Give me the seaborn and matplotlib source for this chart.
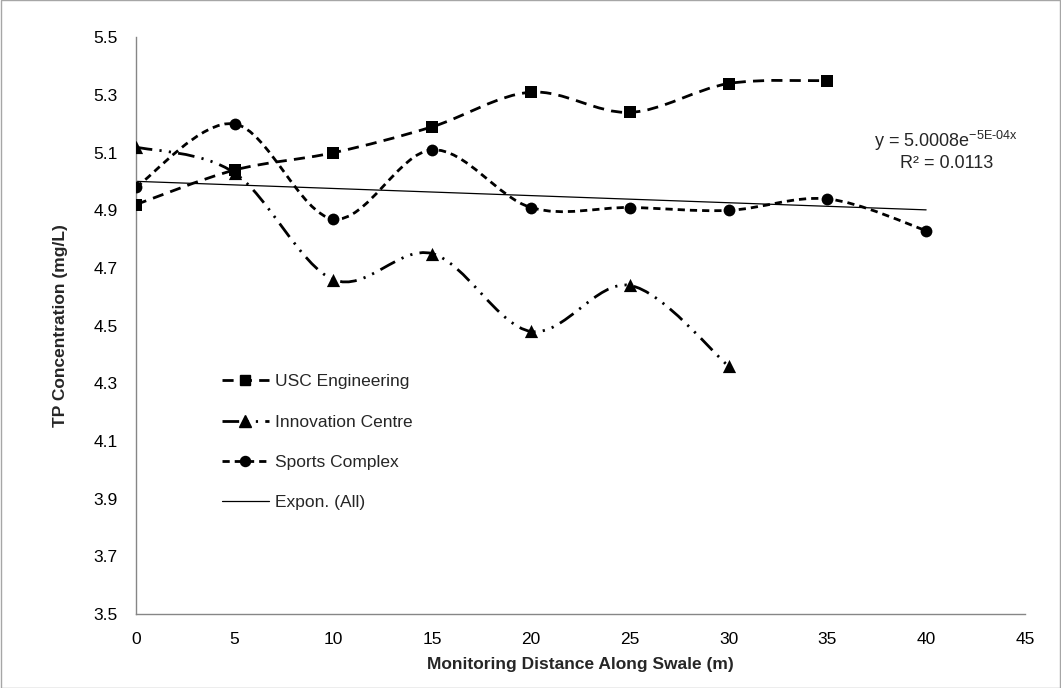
import numpy as np
import pandas as pd
import matplotlib
matplotlib.use("Agg")
import matplotlib.pyplot as plt
import seaborn as sns
from matplotlib.path import Path
from matplotlib.patches import PathPatch, Rectangle
from matplotlib.lines import Line2D

# ---------------- data ----------------
dist_usc = [0, 5, 10, 15, 20, 25, 30, 35]
usc_engineering = [4.92, 5.04, 5.10, 5.19, 5.31, 5.24, 5.34, 5.35]

dist_innov = [0, 5, 10, 15, 20, 25, 30]
innovation_centre = [5.12, 5.03, 4.66, 4.75, 4.48, 4.64, 4.36]

dist_sports = [0, 5, 10, 15, 20, 25, 30, 35, 40]
sports_complex = [4.98, 5.20, 4.87, 5.11, 4.91, 4.91, 4.90, 4.94, 4.83]

trend_x = [0, 40]
trend_y = [5.0008, 4.9018]

series_names = ["USC Engineering", "Innovation Centre", "Sports Complex"]
trend_name = "Expon. (All)"
equation_text = r"y = 5.0008e$\mathregular{^{-5E\text{-}04x}}$"
r2_text = "R² = 0.0113"
x_label = "Monitoring Distance Along Swale (m)"
y_label = "TP Concentration (mg/L)"
x_ticks = [0, 5, 10, 15, 20, 25, 30, 35, 40, 45]
y_ticks = [3.5, 3.7, 3.9, 4.1, 4.3, 4.5, 4.7, 4.9, 5.1, 5.3, 5.5]

# ---------------- style ----------------
sns.set_theme(style="white")
plt.rcParams["font.family"] = ["Liberation Sans", "DejaVu Sans"]
plt.rcParams["mathtext.fontset"] = "custom"
plt.rcParams["mathtext.rm"] = "Liberation Sans"
plt.rcParams["mathtext.it"] = "Liberation Sans"

fig = plt.figure(figsize=(10.61, 6.88), dpi=100)
fig.patch.set_facecolor("white")
fig.patches.append(Rectangle((0.0005, 0.0007), 0.999, 0.9986, transform=fig.transFigure,
                             fill=False, edgecolor="#a6a6a6", linewidth=1.0))
ax = fig.add_axes([0.128, 0.1076, 0.838, 0.838])

frames = []
for name, xs, ys in [(series_names[0], dist_usc, usc_engineering),
                     (series_names[1], dist_innov, innovation_centre),
                     (series_names[2], dist_sports, sports_complex)]:
    frames.append(pd.DataFrame({"Distance": xs, "TP": ys, "Site": name}))
df = pd.concat(frames, ignore_index=True)


def smooth_path(xs, ys):
    """Bezier (Excel-style smoothed line) path through the points."""
    pts = np.column_stack([xs, ys]).astype(float)
    n = len(pts)
    verts = [pts[0]]
    codes = [Path.MOVETO]
    for i in range(n - 1):
        p0 = pts[i - 1] if i > 0 else pts[i]
        p1 = pts[i]
        p2 = pts[i + 1]
        p3 = pts[i + 2] if i + 2 < n else pts[i + 1]
        c1 = p1 + (p2 - p0) / 6.0
        c2 = p2 - (p3 - p1) / 6.0
        verts += [c1, c2, p2]
        codes += [Path.CURVE4] * 3
    return Path(verts, codes)


styles = {
    series_names[0]: dict(ls=(0, (4.0, 2.6)), marker="s", ms=8.5),
    series_names[1]: dict(ls=(0, (6.0, 2.6, 0.8, 2.6, 0.8, 2.6)), marker="^", ms=9.5),
    series_names[2]: dict(ls=(0, (2.6, 1.8)), marker="o", ms=8.5),
}
LW = 2.0

for name, sub in df.groupby("Site", sort=False):
    st = styles[name]
    patch = PathPatch(smooth_path(sub["Distance"].values, sub["TP"].values),
                      fill=False, edgecolor="black", linewidth=LW,
                      linestyle=st["ls"], transform=ax.transData, zorder=2)
    ax.add_patch(patch)
    sns.scatterplot(data=sub, x="Distance", y="TP", marker=st["marker"],
                    s=st["ms"] ** 2, color="black", edgecolor="black",
                    linewidth=0, ax=ax, zorder=3, legend=False)

sns.lineplot(x=trend_x, y=trend_y, color="black", linewidth=0.9, ax=ax,
             zorder=2.5, legend=False)

ax.set_xlim(0, 45)
ax.set_ylim(3.5, 5.5)
ax.set_xticks(x_ticks)
ax.set_yticks(y_ticks)
ax.set_yticklabels([f"{v:.1f}" for v in y_ticks])
ax.tick_params(axis="both", direction="out", length=5, width=1, color="#868686",
               labelsize=12.5, labelcolor="black", pad=8)
ax.tick_params(axis="y", pad=8)
for s in ["top", "right"]:
    ax.spines[s].set_visible(False)
for s in ["left", "bottom"]:
    ax.spines[s].set_color("#868686")
    ax.spines[s].set_linewidth(1.0)
ax.grid(False)

ax.set_xlabel(x_label, fontsize=12.5, fontweight="bold")
ax.set_ylabel(y_label, fontsize=12.5, fontweight="bold")
ax.xaxis.set_label_coords(0.5, -0.074)
ax.yaxis.set_label_coords(-0.076, 0.5)

fig.text(0.892, 0.795, equation_text, ha="center", va="center", fontsize=13)
fig.text(0.892, 0.762, r2_text, ha="center", va="center", fontsize=13)

handles = []
for name in series_names:
    st = styles[name]
    handles.append(Line2D([], [], color="black", linewidth=LW, linestyle=st["ls"],
                          marker=st["marker"], markersize=st["ms"] * 0.85))
handles.append(Line2D([], [], color="black", linewidth=0.9))
leg = ax.legend(handles, series_names + [trend_name], loc="upper left",
                bbox_to_anchor=(0.209, 0.456), bbox_transform=fig.transFigure,
                frameon=False, fontsize=12.5, handlelength=2.7, handletextpad=0.35,
                labelspacing=1.45, borderpad=0, borderaxespad=0)

fig.savefig("out.png", dpi=100, facecolor="white")
